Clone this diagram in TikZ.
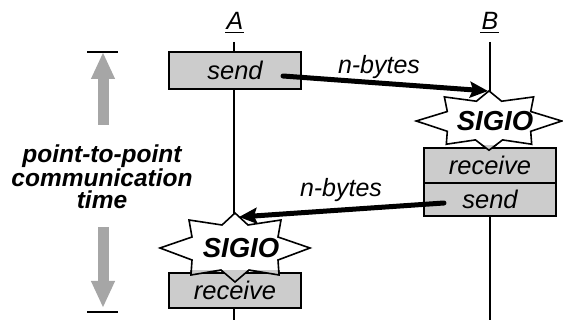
\documentclass[tikz,border=0pt]{standalone}
\usepackage{fontspec}
\setmainfont{Liberation Sans}
\usetikzlibrary{arrows.meta}
\definecolor{boxgray}{gray}{0.8}
\definecolor{timegray}{gray}{0.65}
\newcommand{\sigiostar}{(0,-35) -- (13,-23) -- (46,-28) -- (43,-11) -- (75,0) -- (43,12) -- (44,27) -- (14,22) -- (0,34) -- (-14,22) -- (-44,27) -- (-43,12) -- (-75,0) -- (-43,-11) -- (-46,-28) -- (-13,-23) -- cycle}
\begin{document}
\begin{tikzpicture}[x=1pt,y=-1pt,
  txt/.style={font=\fontsize{25}{28}\selectfont\itshape, inner sep=0pt},
  opbox/.style={draw=black, line width=2pt, fill=boxgray, minimum width=132pt, inner sep=0pt, font=\fontsize{25.5}{28}\selectfont\itshape},
  sigtxt/.style={font=\fontsize{27.5}{30}\selectfont\bfseries\itshape, inner sep=0pt},
  life/.style={line width=2pt},
  msg/.style={line width=5pt, line cap=round, -{Stealth[length=18pt,width=16pt,inset=3pt]}},
  starline/.style={line width=1.6pt, line join=miter},
  timearrow/.style={line width=11pt, draw=timegray, -{Triangle[length=27pt,width=22pt]}},
  tickline/.style={line width=2pt}]
\useasboundingbox (0,0) rectangle (563,320);

% lifelines
\coordinate (Atop) at (234,42); \coordinate (Abot) at (234,320);
\coordinate (Btop) at (490,42); \coordinate (Bbot) at (490,320);
\draw[life] (Atop) -- (Abot);
\draw[life] (Btop) -- (Bbot);

% process labels
\node[txt] (labA) at (235,21) {A};
\node[txt] (labB) at (490,21) {B};
\draw[line width=1.5pt] ([xshift=-1pt,yshift=-2.5pt]labA.south west) -- ([yshift=-2.5pt]labA.south east);
\draw[line width=1.5pt] ([xshift=-1pt,yshift=-2.5pt]labB.south west) -- ([yshift=-2.5pt]labB.south east);

% send box on A
\node[opbox, minimum height=37pt] (sendA) at (235,70.5) {send};

% star on B
\coordinate (starB) at (489,121);
\begin{scope}[shift={(starB)}, xscale=0.97, yscale=0.86]
  \filldraw[starline, fill=white] \sigiostar;
\end{scope}
\node[opbox, minimum height=35pt] (recvB) at (490,165.5) {};
\node[opbox, minimum height=33pt] (sendB) at (490,199.5) {send};
\begin{scope}
  \clip ([yshift=1pt]recvB.north west) rectangle (recvB.south east);
  \begin{scope}[shift={(starB)}, xscale=0.97, yscale=0.86]
    \filldraw[starline, fill=boxgray] \sigiostar;
  \end{scope}
\end{scope}
\node[opbox, draw=none, fill=none] (recvBtxt) at (recvB.center) {receive};
\node[sigtxt] (sigB) at (495,121) {SIGIO};

% star on A
\coordinate (starA) at (235,248);
\begin{scope}[shift={(starA)}]
  \filldraw[starline, fill=white] \sigiostar;
\end{scope}
\node[opbox, minimum height=35pt] (recvA) at (235,290.5) {};
\begin{scope}
  \clip ([yshift=1pt]recvA.north west) rectangle (recvA.south east);
  \begin{scope}[shift={(starA)}]
    \filldraw[starline, fill=boxgray] \sigiostar;
  \end{scope}
\end{scope}
\node[opbox, draw=none, fill=none] (recvAtxt) at (recvA.center) {receive};
\node[sigtxt] (sigA) at (241,248) {SIGIO};

% messages
\coordinate (m1s) at (283,76);
\coordinate (m1e) at (488,91);
\draw[msg] (m1s) -- (m1e);
\node[txt] (nb1) at (379,67) {n-bytes};
\coordinate (m2s) at (444,203);
\coordinate (m2e) at (239,217);
\draw[msg] (m2s) -- (m2e);
\node[txt] (nb2) at (341,190) {n-bytes};

% communication time
\node[font=\fontsize{24.5}{22.5}\selectfont\bfseries\itshape, align=center, inner sep=0pt] (ptp) at (102,177) {point-to-point\\communication\\time};
\coordinate (tickTopL) at (87,52); \coordinate (tickTopR) at (118,52);
\coordinate (tickBotL) at (87,312); \coordinate (tickBotR) at (118,312);
\draw[tickline] (tickTopL) -- (tickTopR);
\draw[tickline] (tickBotL) -- (tickBotR);
\coordinate (upS) at (103,125); \coordinate (upE) at (103,52);
\coordinate (dnS) at (103,227); \coordinate (dnE) at (103,308);
\draw[timearrow] (upS) -- (upE);
\draw[timearrow] (dnS) -- (dnE);
\end{tikzpicture}
\end{document}
